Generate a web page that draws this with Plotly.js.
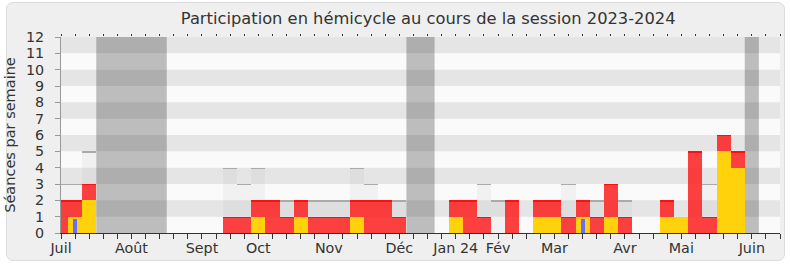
<!DOCTYPE html>
<html><head><meta charset="utf-8">
<script src="https://cdn.plot.ly/plotly-3.0.1.min.js"></script>
<style>
html,body{margin:0;padding:0;background:#fff;}
#frame{position:absolute;left:6px;top:2px;width:777px;height:257px;background:#efefef;border:1px solid #dcdcdc;border-radius:7px;}
#chart{position:absolute;left:0;top:0;width:790px;height:267px;}
</style></head><body>
<div id="frame"></div><div id="chart"></div>
<script>
// weekly data, week index 0 = first week of July 2023
const weeks = Array.from({length: 51}, (_, i) => i);
const presences = [2,2,3,0,0,0,0,0,0,0,0,0,1,1,2,2,1,2,1,1,1,2,2,2,1,0,0,0,2,2,1,0,2,0,2,2,1,2,1,3,1,0,0,2,1,5,1,6,5,0,0];
const interventions = [0,1,2,0,0,0,0,0,0,0,0,0,0,0,1,0,0,1,0,0,0,1,0,0,0,0,0,0,1,0,0,0,0,0,1,1,0,1,0,1,0,0,0,1,1,0,0,5,4,0,0];
const questions = [0,0.85,0,0,0,0,0,0,0,0,0,0,0,0,0,0,0,0,0,0,0,0,0,0,0,0,0,0,0,0,0,0,0,0,0,0,0,0.85,0,0,0,0,0,0,0,0,0,0,0,0,0];
const maxSeances = [3,3,5,0,0,0,0,0,0,0,0,0,4,3,4,2,2,2,2,2,2,4,3,2,2,0,0,0,2,2,3,2,2,0,2,2,3,2,2,3,2,0,0,2,1,5,3,6,5,0,0];
const vacStart = [2.5, 24.5, 48.5];
const vacEnd = [7.5, 26.5, 49.5];
const monthLabels = ['Juil','Août','Sept','Oct','Nov','Déc','Jan 24','Fév','Mar','Avr','Mai','Juin'];
const monthWeeks = [0,5,10,14,19,24,28,31,35,40,44,49];
const yTicks = [0,1,2,3,4,5,6,7,8,9,10,11,12];

const allTicks = Array.from({length: 52}, (_, i) => i);
const tickText = allTicks.map(t => { const k = monthWeeks.indexOf(t); return k >= 0 ? monthLabels[k] : ''; });

const TH = 0.08;
function topLine(vals, color) {
  const xs = [], ys = [], bs = [];
  vals.forEach((v, i) => { if (v > 0) { xs.push(weeks[i]); ys.push(TH); bs.push(v - TH); } });
  return {type: 'bar', x: xs, y: ys, base: bs, width: 1, marker: {color: color, line: {width: 0}}, hoverinfo: 'skip'};
}

const traces = [
  {type: 'bar', x: weeks, y: maxSeances, width: 1, marker: {color: 'rgba(150,150,150,0.09)', line: {width: 0}}, hoverinfo: 'skip'},
  topLine(maxSeances, '#aaaaaa'),
  {type: 'bar', x: weeks, y: presences, width: 1, marker: {color: 'rgba(255,20,20,0.8)', line: {width: 0}}, hoverinfo: 'skip'},
  topLine(presences, '#ff1010'),
  {type: 'bar', x: weeks, y: interventions, width: 1, marker: {color: '#ffd20c', line: {width: 0}}, hoverinfo: 'skip'},
  {type: 'bar', x: weeks, y: questions, width: 0.3, marker: {color: '#6b6bff', line: {width: 0}}, hoverinfo: 'skip'},
  {type: 'scatter', x: [0], y: [0], xaxis: 'x2', mode: 'markers', marker: {opacity: 0}, hoverinfo: 'skip'}
];

const shapes = [];
yTicks.filter(v => v % 2 === 1).forEach(v => {
  shapes.push({type: 'rect', xref: 'paper', yref: 'y', x0: 0, x1: 1, y0: v, y1: v + 1, fillcolor: '#e5e5e5', line: {width: 0}, layer: 'below'});
});
vacStart.forEach((s, i) => {
  shapes.push({type: 'rect', xref: 'x', yref: 'paper', x0: s, x1: vacEnd[i], y0: 0, y1: 1, fillcolor: 'rgba(40,40,40,0.29)', line: {width: 0}, layer: 'below'});
});

const layout = {
  width: 790, height: 267,
  margin: {l: 61, r: 10, t: 37, b: 34},
  paper_bgcolor: 'rgba(0,0,0,0)',
  plot_bgcolor: '#fafafa',
  font: {family: 'DejaVu Sans', size: 14, color: '#333'},
  title: {text: 'Participation en hémicycle au cours de la session 2023-2024', font: {family: 'DejaVu Sans', size: 16.3, color: '#333'}, x: 0.542, xanchor: 'center', y: 0.93, yanchor: 'middle'},
  barmode: 'overlay', bargap: 0,
  showlegend: false,
  shapes: shapes,
  xaxis: {range: [0, 51], tickvals: allTicks, ticktext: tickText, ticks: 'outside', ticklen: 5, tickcolor: '#333', tickwidth: 1,
          showgrid: false, zeroline: false, showline: true, linecolor: '#333', linewidth: 1, fixedrange: true,
          ticklabelstandoff: -3,
          tickfont: {family: 'DejaVu Sans', size: 14.3, color: '#333'}},
  xaxis2: {overlaying: 'x', side: 'top', range: [0, 51], tickvals: allTicks, ticks: 'outside', ticklen: 2, tickcolor: '#333',
           showticklabels: false, showgrid: false, zeroline: false, showline: false},
  yaxis: {range: [0, 12], tickvals: yTicks, ticks: 'outside', ticklen: 5, tickcolor: '#999', tickwidth: 1,
          showgrid: false, zeroline: false, showline: true, linecolor: '#999', linewidth: 1, fixedrange: true,
          ticklabelstandoff: 8,
          tickfont: {family: 'DejaVu Sans', size: 14.3, color: '#333'},
          title: {text: 'Séances par semaine', font: {family: 'DejaVu Sans', size: 14.5, color: '#333'}, standoff: 6}}
};

Plotly.newPlot('chart', traces, layout, {displayModeBar: false, staticPlot: true});
</script></body></html>
